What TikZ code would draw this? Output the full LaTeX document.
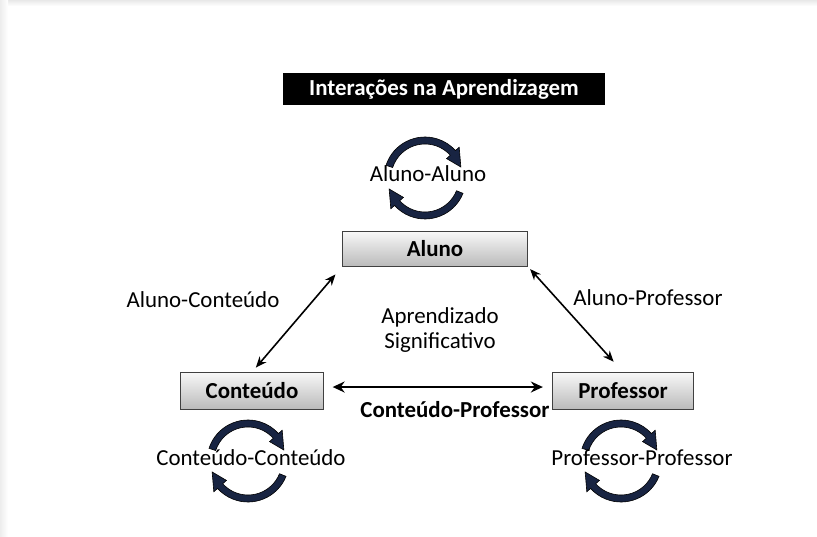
\documentclass[tikz,border=0pt]{standalone}
\usepackage{fontspec}
\setmainfont{Carlito}
\usetikzlibrary{arrows.meta}

\definecolor{loopnavy}{RGB}{24,36,66}
\definecolor{boxedge}{RGB}{64,64,64}
\definecolor{boxgray}{RGB}{186,186,186}

\tikzset{
  actor/.style={draw=boxedge, line width=0.9pt, top color=white!97!black, bottom color=boxgray,
    inner sep=0pt, font=\fontsize{23}{27}\selectfont\bfseries},
  lbl/.style={inner sep=0pt, font=\fontsize{23}{26}\selectfont},
  link/.style={line width=1.6pt, {Stealth[length=11pt,width=9pt]}-{Stealth[length=11pt,width=9pt]}},
  biglink/.style={line width=2.6pt, {Stealth[length=12pt,width=11pt]}-{Stealth[length=12pt,width=11pt]}},
  % two turning half circles round a label
  pics/turnloop/.style={code={
    \filldraw[fill=loopnavy, draw=black, line width=0.6pt]
      (198:41) arc[start angle=198, end angle=318, radius=41] -- (318:46)
      -- (343:37.5) -- (318:29) -- (318:34) arc[start angle=318, end angle=198, radius=34] -- cycle;
    \filldraw[fill=loopnavy, draw=black, line width=0.6pt]
      (22:41) arc[start angle=22, end angle=138, radius=41] -- (138:46)
      -- (163:37.5) -- (138:29) -- (138:34) arc[start angle=138, end angle=22, radius=34] -- cycle;
  }}
}

\begin{document}
\begin{tikzpicture}[x=1bp, y=-1bp]

 \useasboundingbox (0,0) rectangle (817,537);
 \fill[white] (0,0) rectangle (817,537);
 % page edge
 \shade[top color=gray!18, bottom color=white] (0,0) rectangle (817,6);
 \shade[left color=gray!14, right color=white] (0,0) rectangle (8,537);

 \node[fill=black, text=white, minimum width=323, minimum height=33,
   font=\fontsize{23}{27}\selectfont\bfseries] (title) at (444,89) {Interações na Aprendizagem};

 \node[actor, minimum width=186, minimum height=35] (aluno) at (435,249) {Aluno};
 \node[actor, minimum width=143, minimum height=37] (conteudo) at (252,391) {Conteúdo};
 \node[actor, minimum width=142, minimum height=37] (professor) at (623,391) {Professor};

 % loops
 \pic at (425,178) {turnloop};
 \pic at (248,461) {turnloop};
 \pic at (621,461) {turnloop};
 \node[lbl] (alal) at (428,174) {Aluno-Aluno};
 \node[lbl] (coco) at (251,458) {Conteúdo-Conteúdo};
 \node[lbl] (prpr) at (642,458) {Professor-Professor};

 % links between the three
 \draw[link, shorten <=10pt, shorten >=6pt] (aluno.south west) -- (conteudo.north);
 \draw[link, shorten <=3pt, shorten >=14pt] (aluno.south east) -- (professor.north);
 \draw[biglink, shorten <=9pt, shorten >=9pt] ([yshift=4pt]conteudo.east) -- ([yshift=4pt]professor.west);

 \node[lbl] (alco) at (203,300) {Aluno-Conteúdo};
 \node[lbl] (alpr) at (648,298) {Aluno-Professor};
 \node[lbl, align=center] (meio) at (440,330) {Aprendizado\\Significativo};
 \node[lbl, font=\fontsize{23}{27}\selectfont\bfseries] (copr) at (455,410) {Conteúdo-Professor};

\end{tikzpicture}
\end{document}
